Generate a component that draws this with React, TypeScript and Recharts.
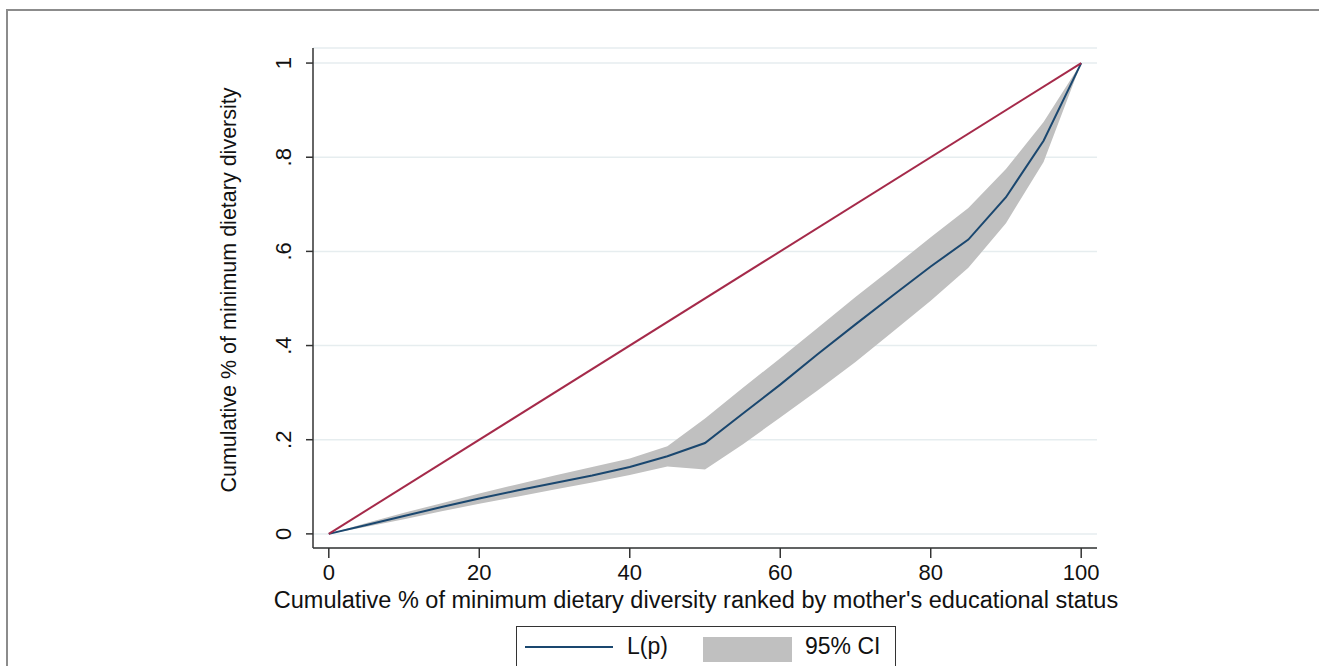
import React from "react";
import {
  ComposedChart, Area, Line, XAxis, YAxis, CartesianGrid, ReferenceLine, Label
} from "recharts";

const FONT = '"Liberation Sans", Arial, sans-serif';

// cumulative % of population (ranked by mother's educational status)
const popShare = [0, 5, 10, 15, 20, 25, 30, 35, 40, 45, 50, 55, 60, 65, 70, 75, 80, 85, 90, 95, 100];
// concentration curve L(p) and its 95% CI
const lorenz = [0, 0.019, 0.038, 0.057, 0.075, 0.092, 0.108, 0.124, 0.142, 0.165, 0.193, 0.255, 0.317, 0.382, 0.445, 0.507, 0.568, 0.625, 0.715, 0.835, 1];
const ciUpper = [0, 0.023, 0.045, 0.065, 0.086, 0.105, 0.124, 0.142, 0.16, 0.186, 0.245, 0.31, 0.373, 0.438, 0.503, 0.566, 0.63, 0.692, 0.775, 0.875, 1];
const ciLower = [0, 0.015, 0.031, 0.048, 0.064, 0.079, 0.094, 0.109, 0.125, 0.143, 0.137, 0.19, 0.247, 0.305, 0.365, 0.43, 0.495, 0.565, 0.66, 0.79, 1];

const xTicks = [0, 20, 40, 60, 80, 100];
const yTicks = [0, 0.2, 0.4, 0.6, 0.8, 1];

const data = popShare.map((p, i) => ({
  p,
  lp: lorenz[i],
  ci: [ciLower[i], ciUpper[i]],
}));

const fmtY = (v: number) => (v === 0 ? "0" : v === 1 ? "1" : String(v).replace(/^0/, ""));

const YTick = (props: any) => {
  const { x, y, payload } = props;
  return (
    <text
      x={x}
      y={y}
      transform={`rotate(-90, ${x}, ${y})`}
      textAnchor="middle"
      fontSize={22}
      fontFamily={FONT}
      fill="#111"
    >
      {fmtY(payload.value)}
    </text>
  );
};

const App: React.FC = () => {
  return (
    <div
      style={{
        position: "absolute", left: 0, top: 0, width: 1319, height: 666,
        overflow: "hidden", background: "#fff", fontFamily: FONT,
      }}
    >
      <div
        style={{
          position: "absolute", left: 6, top: 9, width: 1400, height: 800,
          border: "2px solid #8c8c8c", boxSizing: "border-box",
        }}
      />
      <div style={{ position: "absolute", left: 0, top: 0 }}>
        <ComposedChart
          width={1319}
          height={666}
          data={data}
          margin={{ top: 48, right: 222, left: 0, bottom: 0 }}
        >
          <CartesianGrid vertical={false} stroke="#e6edef" strokeWidth={1.5} />
          <XAxis
            dataKey="p"
            type="number"
            domain={[-2.1, 102.1]}
            ticks={xTicks}
            height={118}
            tickSize={10}
            tickMargin={6}
            axisLine={{ stroke: "#333", strokeWidth: 1.5 }}
            tickLine={{ stroke: "#333", strokeWidth: 1.5 }}
            tick={{ fontSize: 22, fill: "#111", fontFamily: FONT }}
            allowDataOverflow
          >
            <Label
              content={({ viewBox }: any) => (
                <text
                  x={viewBox.x + viewBox.width / 2 - 9}
                  y={viewBox.y + 60}
                  textAnchor="middle"
                  fontSize={23.5}
                  fontFamily={FONT}
                  fill="#111"
                >
                  Cumulative % of minimum dietary diversity ranked by mother's educational status
                </text>
              )}
            />
          </XAxis>
          <YAxis
            type="number"
            domain={[-0.03, 1.032]}
            ticks={yTicks}
            width={313}
            tickSize={7}
            tickMargin={15}
            axisLine={{ stroke: "#333", strokeWidth: 1.5 }}
            tickLine={{ stroke: "#333", strokeWidth: 1.5 }}
            tick={<YTick />}
            allowDataOverflow
          >
            <Label
              content={({ viewBox }: any) => {
                const cx = 236;
                const cy = viewBox.y + viewBox.height / 2 - 8;
                return (
                  <text
                    x={cx}
                    y={cy}
                    transform={`rotate(-90, ${cx}, ${cy})`}
                    textAnchor="middle"
                    fontSize={21.5}
                    fontFamily={FONT}
                    fill="#111"
                  >
                    Cumulative % of minimum dietary diversity
                  </text>
                );
              }}
            />
          </YAxis>
          <Area
            dataKey="ci"
            type="linear"
            stroke="none"
            fill="#c0c0c0"
            fillOpacity={1}
            isAnimationActive={false}
          />
          <Line
            dataKey="lp"
            type="linear"
            stroke="#1a476f"
            strokeWidth={2}
            dot={false}
            isAnimationActive={false}
          />
          <ReferenceLine
            segment={[{ x: 0, y: 0 }, { x: 100, y: 1 }]}
            stroke="#a52a4a"
            strokeWidth={2}
            ifOverflow="visible"
          />
        </ComposedChart>
      </div>
      <div
        style={{
          position: "absolute", left: 516, top: 626, width: 380, height: 60,
          border: "1.5px solid #333", boxSizing: "border-box", background: "#fff",
        }}
      >
        <div style={{ position: "absolute", left: 8, top: 19, width: 88, height: 2, background: "#1a476f" }} />
        <div style={{ position: "absolute", left: 110, top: 6, fontSize: 23, color: "#111", lineHeight: "26px" }}>L(p)</div>
        <div style={{ position: "absolute", left: 186, top: 10, width: 89, height: 25, background: "#c0c0c0" }} />
        <div style={{ position: "absolute", left: 288, top: 6, fontSize: 23, color: "#111", lineHeight: "26px" }}>95% CI</div>
      </div>
    </div>
  );
};

export default App;
